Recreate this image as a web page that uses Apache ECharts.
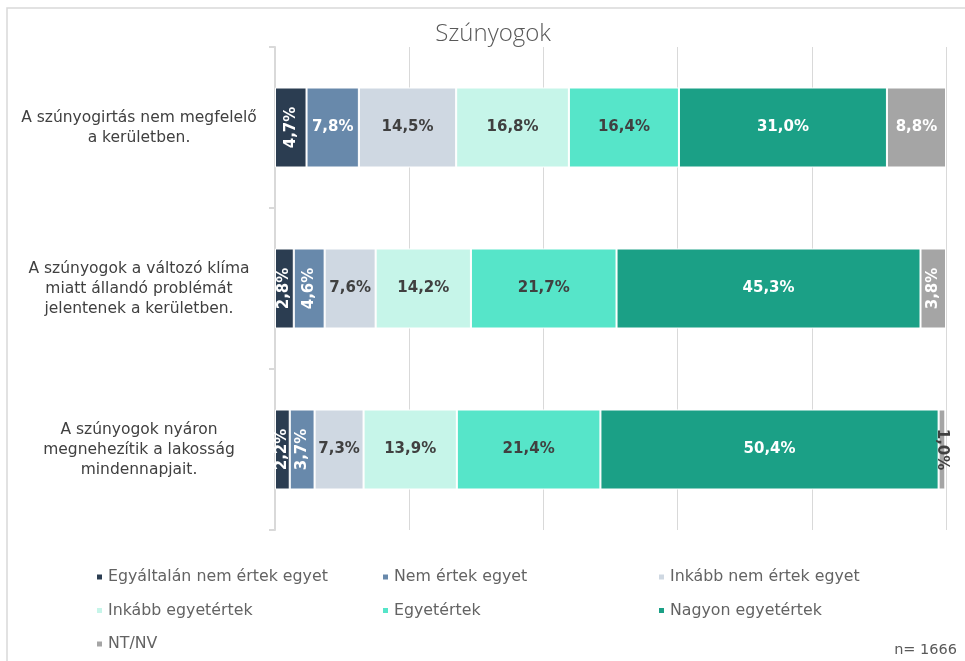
<!DOCTYPE html>
<html>
<head>
<meta charset="utf-8">
<script src="https://cdn.jsdelivr.net/npm/echarts@6/dist/echarts.min.js"></script>
<style>
  html, body { margin: 0; padding: 0; background: #fff; }
  #main { width: 965px; height: 661px; }
</style>
</head>
<body>
<div id="main"></div>
<script>
var categories = [
  'A szúnyogirtás nem megfelelő\na kerületben.',
  'A szúnyogok a változó klíma\nmiatt állandó problémát\njelentenek a kerületben.',
  'A szúnyogok nyáron\nmegnehezítik a lakosság\nmindennapjait.'
];

var seriesNames = [
  'Egyáltalán nem értek egyet',
  'Nem értek egyet',
  'Inkább nem értek egyet',
  'Inkább egyetértek',
  'Egyetértek',
  'Nagyon egyetértek',
  'NT/NV'
];

var egyaltalanNem = [4.7, 2.8, 2.2];
var nemErtek = [7.8, 4.6, 3.7];
var inkabbNem = [14.5, 7.6, 7.3];
var inkabbEgyet = [16.8, 14.2, 13.9];
var egyetert = [16.4, 21.7, 21.4];
var nagyonEgyet = [31.0, 45.3, 50.4];
var ntnv = [8.8, 3.8, 1.0];

var values = [egyaltalanNem, nemErtek, inkabbNem, inkabbEgyet, egyetert, nagyonEgyet, ntnv];
var colors = ['#2b3d51', '#6889ab', '#cfd8e2', '#c6f5e9', '#56e5c9', '#1ba086', '#a5a5a5'];
var labelColors = ['#fff', '#fff', '#404040', '#404040', '#404040', '#fff', '#fff'];

var chart = echarts.init(document.getElementById('main'));

function fmt(v) {
  return v.toFixed(1).replace('.', ',') + '%';
}

var series = values.map(function (arr, si) {
  return {
    name: seriesNames[si],
    type: 'bar',
    stack: 'total',
    barWidth: 80,
    itemStyle: { color: colors[si], borderColor: '#fff', borderWidth: 1 },
    label: {
      show: true,
      position: 'inside',
      color: labelColors[si],
      fontFamily: 'DejaVu Sans',
      fontWeight: 'bold',
      fontSize: 15,
      formatter: function (p) { return fmt(p.value); }
    },
    data: arr.map(function (v) {
      var item = { value: v };
      if (v < 2) {
        // tiny slice: label turned the other way and dark
        item.label = { rotate: -90, color: '#404040' };
      } else if (v < 6) {
        item.label = { rotate: 90 };
      }
      return item;
    })
  };
});

function legendCol(names, left) {
  return {
    orient: 'vertical',
    left: left,
    top: 567,
    padding: 0,
    itemWidth: 7,
    itemHeight: 7,
    itemGap: 13.5,
    icon: 'rect',
    data: names,
    textStyle: { color: '#636363', fontFamily: 'DejaVu Sans', fontSize: 15.8, lineHeight: 20 }
  };
}

var option = {
  animation: false,
  backgroundColor: '#fff',
  graphic: [
    {
      type: 'polyline',
      shape: { points: [[7, 661], [7, 8], [965, 8]] },
      style: { fill: null, stroke: '#d9d9d9', lineWidth: 1.5 },
      silent: true
    },
    {
      type: 'text',
      x: 493, y: 34,
      style: {
        text: 'Szúnyogok', textAlign: 'center', textVerticalAlign: 'middle',
        fill: '#595959', fontSize: 24, fontWeight: 300, fontFamily: 'Open Sans'
      }
    },
    {
      type: 'text',
      x: 957, y: 650,
      style: {
        text: 'n= 1666', textAlign: 'right', textVerticalAlign: 'middle',
        fill: '#595959', fontSize: 14.5, fontFamily: 'DejaVu Sans'
      }
    }
  ],
  legend: [
    legendCol([seriesNames[0], seriesNames[3], seriesNames[6]], 95),
    legendCol([seriesNames[1], seriesNames[4]], 381),
    legendCol([seriesNames[2], seriesNames[5]], 657)
  ],
  grid: { left: 275, right: 19, top: 47, bottom: 131 },
  xAxis: {
    type: 'value',
    min: 0,
    max: 100,
    interval: 20,
    axisLabel: { show: false },
    axisLine: { show: false },
    axisTick: { show: false },
    splitLine: { lineStyle: { color: '#d9d9d9', width: 1 } }
  },
  yAxis: {
    type: 'category',
    inverse: true,
    data: categories,
    axisLine: { lineStyle: { color: '#d9d9d9', width: 2 } },
    axisTick: { show: true, length: 6, lineStyle: { color: '#d9d9d9', width: 2 } },
    axisLabel: {
      color: '#404040',
      fontFamily: 'DejaVu Sans',
      fontSize: 15.5,
      lineHeight: 20,
      align: 'center',
      margin: 136
    }
  },
  series: series
};

chart.setOption(option);
</script>
</body>
</html>
